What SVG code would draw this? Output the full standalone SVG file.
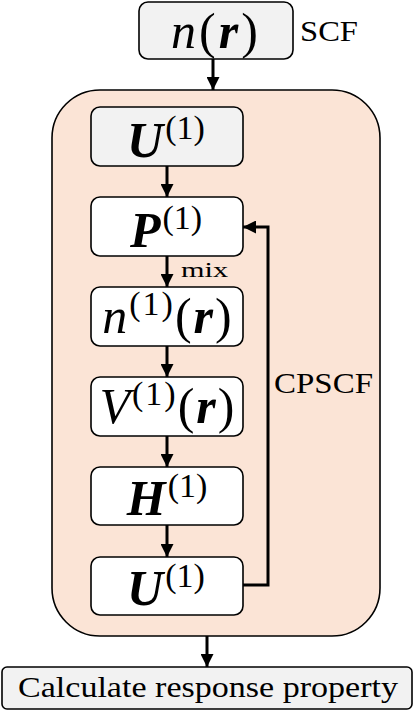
<svg xmlns="http://www.w3.org/2000/svg" width="415" height="711" viewBox="0 0 415 711">
<defs>
<marker id="ah" viewBox="0 0 12 12" refX="12" refY="6" markerWidth="13" markerHeight="13" markerUnits="userSpaceOnUse" orient="auto">
<path d="M0,0 L12,6 L0,12 z" fill="#000"/>
</marker>
<style>
.box{stroke:#000;stroke-width:1.6;}
.w{fill:#fff;}
.g{fill:#f2f2f2;}
.m{font-size:50px;font-style:italic;fill:#000;}
.b{font-weight:bold;}
.sup{font-style:normal;font-weight:normal;font-size:34px;}
.up{font-style:normal;font-weight:normal;}
.lbl{fill:#000;}
.c{stroke:#000;stroke-width:3;fill:none;}
</style>
</defs>
<g id="outer">
<rect x="52" y="90" width="328" height="546" rx="48" ry="48" fill="#fbe4d6" stroke="#000" stroke-width="1.6"/>
</g>
<g id="scf">
<rect class="box g" x="139" y="2" width="154" height="57" rx="9"/>
<text class="m" font-family="'Liberation Serif', 'DejaVu Serif', serif" x="216" y="48" text-anchor="middle" letter-spacing="3">n<tspan class="up">(</tspan><tspan class="b">r</tspan><tspan class="up">)</tspan></text>
<text class="lbl" font-family="'Liberation Serif', 'DejaVu Serif', serif" x="300" y="41" font-size="29" textLength="58" lengthAdjust="spacingAndGlyphs">SCF</text>
</g>
<g id="u0">
<rect class="box g" x="91" y="107" width="152" height="59" rx="9"/>
<text class="m" font-family="'Liberation Serif', 'DejaVu Serif', serif" x="166" y="157" text-anchor="middle"><tspan class="b">U</tspan><tspan class="sup" dy="-18" dx="2">(1)</tspan></text>
</g>
<g id="p1">
<rect class="box w" x="91" y="197" width="152" height="59" rx="9"/>
<text class="m" font-family="'Liberation Serif', 'DejaVu Serif', serif" x="166" y="247" text-anchor="middle"><tspan class="b">P</tspan><tspan class="sup" dy="-18" dx="2">(1)</tspan></text>
</g>
<g id="n1">
<rect class="box w" x="91" y="287" width="152" height="59" rx="9"/>
<text class="m" font-family="'Liberation Serif', 'DejaVu Serif', serif" x="168" y="333" text-anchor="middle" letter-spacing="2">n<tspan class="sup" dy="-18">(1)</tspan><tspan class="up" dy="18">(</tspan><tspan class="b">r</tspan><tspan class="up">)</tspan></text>
</g>
<g id="v1">
<rect class="box w" x="91" y="377" width="152" height="59" rx="9"/>
<text class="m" font-family="'Liberation Serif', 'DejaVu Serif', serif" x="168" y="423" text-anchor="middle" letter-spacing="2">V<tspan class="sup" dy="-18">(1)</tspan><tspan class="up" dy="18">(</tspan><tspan class="b">r</tspan><tspan class="up">)</tspan></text>
</g>
<g id="h1">
<rect class="box w" x="91" y="467" width="152" height="58" rx="9"/>
<text class="m" font-family="'Liberation Serif', 'DejaVu Serif', serif" x="167" y="515" text-anchor="middle"><tspan class="b">H</tspan><tspan class="sup" dy="-18" dx="2">(1)</tspan></text>
</g>
<g id="u1">
<rect class="box w" x="91" y="557" width="152" height="58" rx="9"/>
<text class="m" font-family="'Liberation Serif', 'DejaVu Serif', serif" x="166" y="605" text-anchor="middle"><tspan class="b">U</tspan><tspan class="sup" dy="-18" dx="2">(1)</tspan></text>
</g>
<g id="calc">
<rect class="box g" x="2" y="667" width="410" height="42" rx="5"/>
<text class="lbl" font-family="'Liberation Serif', 'DejaVu Serif', serif" x="18" y="697" font-size="30" textLength="380" lengthAdjust="spacingAndGlyphs">Calculate response property</text>
</g>
<g id="connectors">
<line class="c" x1="213" y1="59" x2="213" y2="90" marker-end="url(#ah)"/>
<line class="c" x1="167" y1="166" x2="167" y2="197" marker-end="url(#ah)"/>
<line class="c" x1="167" y1="256" x2="167" y2="287" marker-end="url(#ah)"/>
<line class="c" x1="167" y1="346" x2="167" y2="377" marker-end="url(#ah)"/>
<line class="c" x1="167" y1="436" x2="167" y2="467" marker-end="url(#ah)"/>
<line class="c" x1="167" y1="525" x2="167" y2="557" marker-end="url(#ah)"/>
<polyline class="c" points="243,585 268,585 268,227 243,227" marker-end="url(#ah)"/>
<line class="c" x1="207" y1="636" x2="207" y2="667" marker-end="url(#ah)"/>
<text class="lbl" font-family="'Liberation Serif', 'DejaVu Serif', serif" x="181" y="277" font-size="22" textLength="47" lengthAdjust="spacingAndGlyphs">mix</text>
<text class="lbl" font-family="'Liberation Serif', 'DejaVu Serif', serif" x="274" y="393" font-size="29" textLength="99" lengthAdjust="spacingAndGlyphs">CPSCF</text>
</g>
</svg>
